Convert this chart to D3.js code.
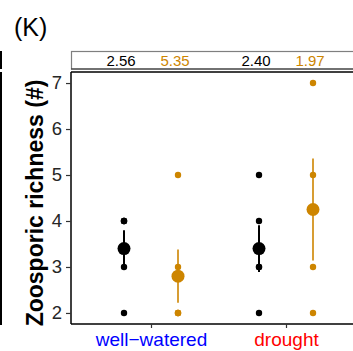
<!DOCTYPE html>
<html>
<head>
<meta charset="utf-8">
<script src="https://cdn.jsdelivr.net/npm/d3@7/dist/d3.min.js"></script>
<style>
  html, body { margin: 0; padding: 0; background: #fff; }
  svg { display: block; font-family: "Liberation Sans", Arial, sans-serif; }
</style>
</head>
<body>
<svg id="chart" width="353" height="351"></svg>
<script>
// Watering treatments and microbial source groups
const treatments = ["well-watered", "drought"];
const treatmentLabels = ["well\u2212watered", "drought"];
const treatmentColors = ["#0000FF", "#FF0000"];
const groups = ["A", "B"];
const groupColors = ["#000000", "#CD8500"];

// Raw zoosporic richness per sample
const rawWellA = [2, 3, 4, 4, 4];
const rawWellB = [2, 2, 2, 3, 5];
const rawDroughtA = [2, 3, 3, 4, 5];
const rawDroughtB = [2, 3, 5, 7];

// Group means and standard errors
const meanValues = [3.4, 2.8, 3.4, 4.25];
const seValues = [0.40, 0.58, 0.51, 1.11];

// Statistic shown in the strip above each group
const stripLabels = ["2.56", "5.35", "2.40", "1.97"];

const yTicks = [2, 3, 4, 5, 6, 7];

const FONT = "Liberation Sans, Arial, sans-serif";
const svg = d3.select("#chart");

const panel = { left: 71, top: 72, bottom: 324 };

const x = d3.scaleLinear().domain([0.4, 2.6]).range([70, 367]);
const y = d3.scaleLinear().domain([1.76, 7.24]).range([panel.bottom, panel.top]);
const dodge = 0.2;

const cells = [
  { t: 0, g: 0, raw: rawWellA },
  { t: 0, g: 1, raw: rawWellB },
  { t: 1, g: 0, raw: rawDroughtA },
  { t: 1, g: 1, raw: rawDroughtB }
].map((d, i) => Object.assign(d, {
  xv: d.t + 1 + (d.g === 0 ? -dodge : dodge),
  mean: meanValues[i],
  se: seValues[i],
  label: stripLabels[i]
}));

// Panel title
svg.append("text").attr("x", 14).attr("y", 36)
  .attr("font-size", 25).attr("fill", "#000").text("(K)");

// Edge of the neighbouring panel
svg.append("line").attr("x1", 1).attr("x2", 1).attr("y1", 51).attr("y2", 69)
  .attr("stroke", "#000").attr("stroke-width", 2);
svg.append("line").attr("x1", 1).attr("x2", 1).attr("y1", 72).attr("y2", 325)
  .attr("stroke", "#000").attr("stroke-width", 2);

// Strip with group statistics
svg.append("rect").attr("x", panel.left + 0.5).attr("y", 51.5)
  .attr("width", 400).attr("height", 17.5)
  .attr("fill", "#fff").attr("stroke", "#7f7f7f").attr("stroke-width", 1.2);
svg.append("line").attr("x1", panel.left).attr("x2", 353).attr("y1", 69).attr("y2", 69)
  .attr("stroke", "#333").attr("stroke-width", 1.2);
svg.selectAll(".strip").data(cells).join("text")
  .attr("x", d => x(d.xv) - 3).attr("y", 66)
  .attr("text-anchor", "middle").attr("font-size", 15)
  .attr("fill", d => groupColors[d.g])
  .text(d => d.label);

// Panel frame
svg.append("line").attr("x1", panel.left).attr("x2", 353).attr("y1", panel.top).attr("y2", panel.top)
  .attr("stroke", "#000").attr("stroke-width", 1.5);
svg.append("line").attr("x1", panel.left).attr("x2", panel.left).attr("y1", panel.top).attr("y2", panel.bottom)
  .attr("stroke", "#000").attr("stroke-width", 1.5);
svg.append("line").attr("x1", panel.left).attr("x2", 353).attr("y1", panel.bottom).attr("y2", panel.bottom)
  .attr("stroke", "#000").attr("stroke-width", 1.5);

// Y axis
const yAxis = d3.axisLeft(y).tickValues(yTicks).tickSize(5).tickPadding(4).tickFormat(d3.format("d"));
const yg = svg.append("g").attr("transform", `translate(${panel.left},0)`).call(yAxis);
yg.select(".domain").remove();
yg.selectAll(".tick line").attr("stroke", "#333").attr("stroke-width", 1.2);
yg.selectAll(".tick text").attr("font-size", 18.5).attr("fill", "#262626")
  .attr("font-family", FONT);

// X axis
const xAxis = d3.axisBottom(x).tickValues([1, 2]).tickSize(4).tickPadding(5)
  .tickFormat((d, i) => treatmentLabels[i]);
const xg = svg.append("g").attr("transform", `translate(0,${panel.bottom})`).call(xAxis);
xg.select(".domain").remove();
xg.selectAll(".tick line").attr("stroke", "#333").attr("stroke-width", 1.2);
xg.selectAll(".tick text").attr("font-size", 19)
  .attr("font-family", FONT)
  .attr("fill", (d, i) => treatmentColors[i]);

// Y axis title
svg.append("text")
  .attr("transform", `translate(43,203) rotate(-90)`)
  .attr("text-anchor", "middle").attr("font-size", 23).attr("font-weight", "bold")
  .attr("fill", "#000").text("Zoosporic richness (#)");

const plot = svg.append("g");

// Error bars (mean ± SE)
plot.selectAll(".err").data(cells).join("line")
  .attr("x1", d => x(d.xv)).attr("x2", d => x(d.xv))
  .attr("y1", d => y(d.mean - d.se)).attr("y2", d => y(d.mean + d.se))
  .attr("stroke", d => groupColors[d.g])
  .attr("stroke-width", d => d.g === 0 ? 2 : 1.6);

// Raw observations
cells.forEach(c => {
  plot.selectAll(null).data(c.raw).join("circle")
    .attr("cx", x(c.xv)).attr("cy", v => y(v)).attr("r", 3.2)
    .attr("fill", groupColors[c.g]);
});

// Group means
plot.selectAll(".mean").data(cells).join("circle")
  .attr("cx", d => x(d.xv)).attr("cy", d => y(d.mean)).attr("r", 6.5)
  .attr("fill", d => groupColors[d.g]);
</script>
</body>
</html>
